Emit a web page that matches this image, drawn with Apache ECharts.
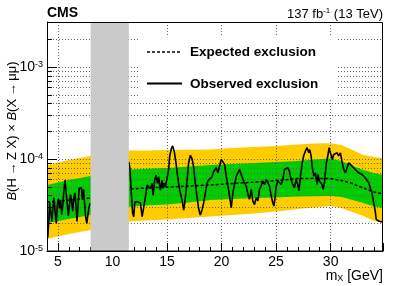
<!DOCTYPE html>
<html><head><meta charset="utf-8">
<script src="https://cdn.jsdelivr.net/npm/echarts@6/dist/echarts.min.js"></script>
<style>html,body{margin:0;padding:0;background:#fff}#c{width:399px;height:286px}</style>
</head><body><div id="c"></div>
<script>
// ---- data (y values in units of 1e-5) ----
const UNIT = 1e-5;
const xTickLabels = [5, 10, 15, 20, 25, 30];
const yTickExponents = [-5, -4, -3];
const vetoRegion = [8, 11.5];
const bandX    = [4, 5, 6, 7, 8, 11.5, 13, 15, 17, 19, 21, 23, 25, 27, 28.5, 30, 31, 32, 33, 34, 34.8];
const yellowHi = [8.61, 9.16, 9.75, 10.25, 10.78, 12.37, 12.43, 12.52, 12.65, 12.75, 13.17, 13.5, 13.85, 14.38, 14.74, 14.9, 14.2, 12.52, 11.05, 10.51, 10.25];
const greenHi  = [5.22, 5.55, 5.91, 6.22, 6.54, 7.69, 7.83, 7.98, 8.29, 8.61, 8.82, 9.05, 9.28, 9.51, 9.88, 10.13, 9.51, 8.39, 7.59, 7.04, 6.70];
const expected = [3.41, 3.50, 3.58, 3.67, 3.77, 4.72, 4.84, 4.96, 5.09, 5.22, 5.42, 5.62, 5.84, 6.14, 6.17, 6.14, 5.84, 5.42, 4.84, 4.38, 4.17];
const greenLo  = [2.02, 2.12, 2.23, 2.34, 2.46, 3.03, 3.12, 3.20, 3.38, 3.58, 3.67, 3.77, 3.83, 3.91, 3.94, 3.96, 3.86, 3.58, 3.33, 3.05, 2.93];
const yellowLo = [1.35, 1.44, 1.53, 1.61, 1.69, 2.09, 2.15, 2.20, 2.28, 2.37, 2.46, 2.56, 2.69, 2.86, 2.97, 3.08, 2.93, 2.65, 2.40, 2.12, 2.02];
const observedLow = [[4.07,1.4],[4.15,2.0],[4.25,3.4],[4.35,2.6],[4.45,2.1],[4.55,3.0],[4.65,3.8],[4.75,2.6],[4.85,2.0],[4.95,3.2],[5.05,3.7],[5.15,2.9],[5.25,3.6],[5.35,2.5],[5.45,3.2],[5.55,4.6],[5.65,5.9],[5.75,4.4],[5.85,3.3],[5.95,2.4],[6.05,3.1],[6.15,4.1],[6.25,3.5],[6.35,2.7],[6.45,3.7],[6.55,4.3],[6.65,3.2],[6.75,2.1],[6.85,2.1],[6.95,4.8],[7.05,5.0],[7.15,4.9],[7.25,3.6],[7.35,4.7],[7.45,3.3],[7.55,2.3],[7.65,2.0],[7.75,2.5],[7.85,3.0],[7.95,3.3]];
const observedHigh = [[11.49,9.35],[11.6,8.0],[11.72,4.5],[11.85,2.6],[11.95,2.36],[12.05,3.4],[12.26,3.44],[12.4,3.35],[12.56,3.35],[12.65,3.3],[12.72,2.36],[12.87,3.0],[13.02,3.9],[13.18,5.2],[13.32,5.45],[13.48,4.8],[13.63,5.45],[13.73,4.06],[13.87,5.9],[14.0,6.7],[14.12,5.45],[14.24,6.4],[14.39,4.6],[14.55,5.9],[14.64,4.8],[14.76,5.45],[14.85,5.0],[15.01,5.0],[15.15,7.6],[15.24,10.6],[15.4,13.0],[15.52,13.9],[15.67,12.0],[15.83,9.0],[15.98,6.4],[16.16,4.6],[16.38,3.58],[16.53,2.79],[16.68,3.74],[16.84,5.9],[16.98,9.0],[17.14,11.0],[17.29,10.2],[17.44,8.23],[17.6,5.45],[17.75,3.9],[17.9,2.9],[18.05,2.46],[18.21,2.79],[18.35,3.3],[18.51,4.24],[18.67,5.45],[18.81,5.9],[18.97,5.66],[19.12,6.4],[19.27,7.27],
[19.36,7.1],[19.52,8.04],[19.67,7.1],[19.82,8.4],[19.97,9.9],[20.13,9.75],[20.28,8.75],[20.43,6.52],[20.59,5.1],[20.73,3.96],[20.89,2.96],[21.04,4.3],[21.19,5.3],[21.35,6.52],[21.5,7.1],[21.65,7.7],[21.8,7.4],[21.96,6.0],[22.1,5.52],[22.26,5.1],[22.42,4.13],[22.56,3.65],[22.72,4.68],[22.87,3.5],[23.02,3.2],[23.18,3.8],[23.33,3.5],[23.48,4.68],[23.63,5.1],[23.79,5.77],[23.94,5.3],[24.09,6.0],[24.25,5.52],[24.39,5.1],[24.55,3.96],[24.7,3.35],[24.8,3.08],[24.92,3.96],[25.01,5.1],[25.16,5.77],[25.31,6.0],[25.46,5.3],[25.62,6.0],[25.77,7.7],[25.92,8.04],[26.08,8.04],[26.22,7.4],[26.38,6.0],[26.53,5.3],[26.68,4.87],[26.84,6.0],[26.99,5.3],[27.1,4.5],[27.23,6.5],[27.39,9.0],[27.54,11.0],[27.69,12.2],[27.84,13.3],[28.0,11.7],[28.09,12.7],[28.21,10.8],[28.3,8.4],[28.46,6.52],[28.6,7.1],[28.76,5.3],[28.85,6.8],[28.97,5.77],[29.12,6.0],[29.21,5.3],[29.31,4.68],[29.43,5.52],[29.52,7.1],[29.61,9.1],[29.74,10.8],[29.86,13.3],[29.97,11.7],[30.07,10.8],[30.16,9.9],[30.28,11.2],[30.43,10.8],[30.59,11.7],[30.74,10.8],[30.89,11.7],[31.04,9.5],[31.2,7.7],[31.35,7.1],[31.5,8.04],[31.66,9.1],[31.8,9.5],[31.96,8.4],[32.11,8.04],[32.26,7.7],[32.42,7.7],[32.57,7.1],[32.72,7.4],[32.87,6.8],[33.03,6.8],[33.18,6.25],[33.33,6.0],[33.49,5.52],[33.63,4.87],[33.79,4.3],[33.95,3.35],[34.09,2.72],[34.18,2.21],[34.31,2.12],[34.4,2.12],[34.55,2.03],[34.7,2.07]];
const gridMantissas = [1, 2, 3, 4, 5, 6, 7, 8, 9];

// ---- chart ----
const FONT = "'Liberation Sans', Arial, Helvetica, sans-serif";
const X_MIN = 4, X_MAX = 34.8, Y_MIN = 1e-5, Y_MAX = 3.1e-3;
const toPairs = (xs, ys) => xs.map((x, i) => [x, ys[i] * UNIT]);
const scalePairs = ps => ps.map(p => [p[0], p[1] * UNIT]);

const yGrid = [];
yTickExponents.forEach(e => gridMantissas.forEach(m => {
  const v = m * Math.pow(10, e);
  if (v > Y_MIN * 1.0001 && v < Y_MAX * 0.9) yGrid.push(v);
}));

function band(name, ys, color) {
  return { type: 'line', name, data: toPairs(bandX, ys), symbol: 'none', silent: true, z: 1,
    lineStyle: { width: 0 }, areaStyle: { color, opacity: 1, origin: 'start' }, animation: false };
}

const chart = echarts.init(document.getElementById('c'), null, { renderer: 'canvas' });
chart.setOption({
  animation: false,
  backgroundColor: '#fff',
  grid: { left: 47, right: 16, top: 22, bottom: 35, show: false },
  xAxis: {
    type: 'value', min: X_MIN, max: X_MAX, splitNumber: 6, z: 6,
    axisLine: { show: true, lineStyle: { color: '#000', width: 1 } },
    axisTick: { show: true, inside: true, length: 8, lineStyle: { color: '#000' } },
    minorTick: { show: true, splitNumber: 5, length: 4, lineStyle: { color: '#000' } },
    splitLine: { show: false },
    axisLabel: { color: '#000', fontSize: 14, fontFamily: FONT, margin: 4,
      formatter: v => xTickLabels.includes(v) ? String(v) : '' }
  },
  yAxis: {
    type: 'log', logBase: 10, min: Y_MIN, max: Y_MAX, z: 6,
    axisLine: { show: true, lineStyle: { color: '#000', width: 1 } },
    axisTick: { show: true, inside: true, length: 10, lineStyle: { color: '#000' } },
    splitLine: { show: false },
    axisLabel: { color: '#000', fontFamily: FONT, margin: 4,
      formatter: v => {
        const lg = Math.log10(v), e = Math.round(lg);
        if (Math.abs(lg - e) > 1e-6 || !yTickExponents.includes(e)) return '';
        return '{b|10}{s|' + e + '}';
      },
      rich: {
        b: { fontSize: 14, fontFamily: FONT, color: '#000', lineHeight: 14, verticalAlign: 'bottom' },
        s: { fontSize: 9, fontFamily: FONT, color: '#000', lineHeight: 9, verticalAlign: 'top', padding: [0, 0, 9, 0] }
      }
    }
  },
  series: [
    band('yellowHi', yellowHi, '#ffcc00'),
    band('greenHi', greenHi, '#00cc00'),
    band('greenLo', greenLo, '#ffcc00'),
    band('yellowLo', yellowLo, '#ffffff'),
    { type: 'line', name: 'grid', data: [], z: 3, silent: true,
      markLine: { silent: true, symbol: 'none', z: 3, precision: 12, animation: false, label: { show: false },
        lineStyle: { color: '#666', width: 1, type: [1, 2] },
        data: [...yGrid.map(v => ({ yAxis: v })), ...xTickLabels.map(v => ({ xAxis: v }))] } },
    { type: 'line', name: 'minorTicks', data: [], z: 3, silent: true,
      markLine: { silent: true, symbol: 'none', z: 6, precision: 12, animation: false, label: { show: false },
        lineStyle: { color: '#000', width: 1, type: 'solid' },
        data: yGrid.map(v => [{ coord: [X_MIN, v] }, { coord: [X_MIN + 0.45, v] }]) } },
    { type: 'line', name: 'Expected exclusion', data: toPairs(bandX, expected), symbol: 'none', z: 4,
      lineStyle: { color: '#000', width: 1.5, type: [3, 2] } },
    { type: 'line', name: 'Observed exclusion', data: scalePairs(observedLow), symbol: 'none', z: 4,
      lineStyle: { color: '#000', width: 1.6 } },
    { type: 'line', name: 'Observed exclusion', data: scalePairs(observedHigh), symbol: 'none', z: 4,
      lineStyle: { color: '#000', width: 1.6 } },
    { type: 'line', name: 'veto', data: [], z: 8, silent: true,
      markArea: { silent: true, z: 8, animation: false, itemStyle: { color: '#cacaca', opacity: 1 },
        data: [[{ xAxis: vetoRegion[0] }, { xAxis: vetoRegion[1] }]] } }
  ],
  graphic: [
    { type: 'rect', z: 20, silent: true, shape: { x: 47.5, y: 22.5, width: 335, height: 228.5 },
      style: { fill: 'none', stroke: '#000', lineWidth: 1 } },
    { type: 'rect', z: 20, silent: true, shape: { x: 139, y: 36, width: 199, height: 63 },
      style: { fill: '#fff' } },
    { type: 'line', z: 21, silent: true, shape: { x1: 147, y1: 52, x2: 182, y2: 52 },
      style: { stroke: '#000', lineWidth: 1.5, lineDash: [3, 2] } },
    { type: 'line', z: 21, silent: true, shape: { x1: 147, y1: 83.5, x2: 182, y2: 83.5 },
      style: { stroke: '#000', lineWidth: 2 } },
    { type: 'text', z: 21, x: 190, y: 52, style: { text: 'Expected exclusion', fill: '#000',
      fontSize: 13.5, fontWeight: 'bold', fontFamily: FONT, verticalAlign: 'middle' } },
    { type: 'text', z: 21, x: 190, y: 84, style: { text: 'Observed exclusion', fill: '#000',
      fontSize: 13.5, fontWeight: 'bold', fontFamily: FONT, verticalAlign: 'middle' } },
    { type: 'text', z: 21, x: 47, y: 13.5, style: { text: 'CMS', fill: '#000',
      fontSize: 14, fontWeight: 'bold', fontFamily: FONT, verticalAlign: 'middle' } },
    { type: 'text', z: 21, x: 383, y: 14, style: { text: '{n|137 fb}{s|-1}{n| (13 TeV)}', fill: '#000',
      fontFamily: FONT, align: 'right', verticalAlign: 'middle',
      rich: { n: { fontSize: 13, fontFamily: FONT, lineHeight: 14, verticalAlign: 'bottom' },
              s: { fontSize: 8, fontFamily: FONT, lineHeight: 8, verticalAlign: 'top', padding: [0, 0, 8, 0] } } } },
    { type: 'text', z: 21, x: 383, y: 276, style: { text: '{n|m}{b|X}{n| [GeV]}', fill: '#000',
      fontFamily: FONT, align: 'right', verticalAlign: 'middle',
      rich: { n: { fontSize: 14, fontFamily: FONT, lineHeight: 14, verticalAlign: 'top' },
              b: { fontSize: 9, fontFamily: FONT, lineHeight: 10, verticalAlign: 'bottom', padding: [7, 0, 0, 0] } } } },
    { type: 'text', z: 21, x: 12, y: 131, rotation: Math.PI / 2, style: {
      text: '{i|B}(H\u2009→\u2009Z X) × {i|B}(X\u2009→\u2009μμ)', fill: '#000', fontSize: 13, fontFamily: FONT,
      align: 'center', verticalAlign: 'middle',
      rich: { i: { fontSize: 13, fontFamily: FONT, fontStyle: 'italic' } } } }
  ]
});
</script></body></html>
